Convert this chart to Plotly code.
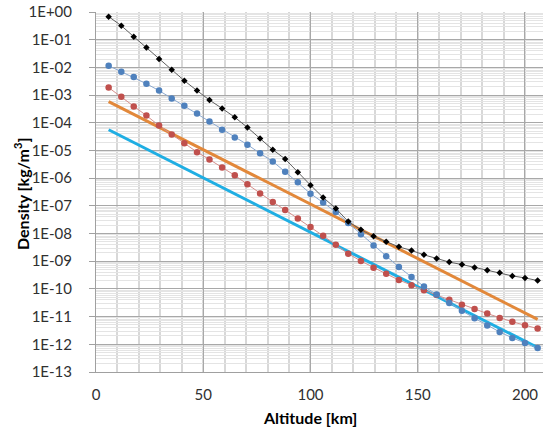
import plotly.graph_objects as go

# Altitude sample points [km]
altitude = [5.9, 11.8, 17.6, 23.5, 29.4, 35.3, 41.2, 47.1, 52.9, 58.8, 64.7, 70.6,
            76.5, 82.4, 88.2, 94.1, 100.0, 105.9, 111.8, 117.6, 123.5, 129.4, 135.3,
            141.2, 147.1, 152.9, 158.8, 164.7, 170.6, 176.5, 182.4, 188.2, 194.1,
            200.0, 205.9]

density_black = [6.8e-1, 3.2e-1, 1.29e-1, 5.2e-2, 2.0e-2, 8.3e-3, 3.3e-3, 1.45e-3,
                 6.6e-4, 3.3e-4, 1.58e-4, 6.8e-5, 2.7e-5, 1.07e-5, 4.9e-6, 1.62e-6,
                 5.6e-7, 2.0e-7, 8.1e-8, 2.7e-8, 1.38e-8, 7.9e-9, 5.1e-9, 3.3e-9,
                 2.45e-9, 1.7e-9, 1.26e-9, 9.3e-10, 7.6e-10, 5.9e-10, 4.7e-10, 3.8e-10,
                 2.95e-10, 2.5e-10, 2.0e-10]

density_blue = [1.15e-2, 7.0e-3, 4.5e-3, 2.57e-3, 1.45e-3, 7.6e-4, 4.1e-4, 2.14e-4,
                1.1e-4, 5.6e-5, 2.95e-5, 1.62e-5, 7.9e-6, 4.0e-6, 1.7e-6, 7.1e-7,
                2.75e-7, 1.32e-7, 6.0e-8, 2.4e-8, 9.5e-9, 3.7e-9, 1.5e-9, 6.2e-10,
                2.7e-10, 1.23e-10, 6.3e-11, 3.1e-11, 1.62e-11, 8.7e-12, 4.8e-12,
                2.8e-12, 1.7e-12, 1.12e-12, 7.4e-13]

density_red = [1.86e-3, 8.7e-4, 3.9e-4, 1.82e-4, 7.9e-5, 3.8e-5, 1.82e-5, 8.7e-6,
               4.7e-6, 2.45e-6, 1.26e-6, 6.0e-7, 2.8e-7, 1.38e-7, 7.1e-8, 3.5e-8,
               1.74e-8, 8.3e-9, 3.9e-9, 1.86e-9, 1.02e-9, 5.8e-10, 3.5e-10, 2.1e-10,
               1.35e-10, 8.9e-11, 6.0e-11, 4.1e-11, 2.7e-11, 1.9e-11, 1.29e-11,
               8.9e-12, 6.5e-12, 4.9e-12, 3.7e-12]

# Straight (exponential) fits: endpoints
fit_altitude = [5.9, 205.9]
density_orange = [5.8e-4, 7.9e-12]
density_cyan = [5.6e-5, 7.6e-13]

y_tickvals = [10.0 ** (-k) for k in range(0, 14)]
y_ticktext = ["1E+00"] + ["1E-%02d" % k for k in range(1, 14)]
y_minorvals = [m * 10.0 ** (-k) for k in range(1, 14) for m in range(2, 10)]
x_tickvals = [0, 50, 100, 150, 200]

FONT = "Lato"
W, H = 543, 429
ML, MR, MT, MB = 96, 0, 12, 57

fig = go.Figure()
fig.add_trace(go.Scatter(x=fit_altitude, y=density_orange, mode="lines",
                         line=dict(color="#E2883A", width=3)))
fig.add_trace(go.Scatter(x=fit_altitude, y=density_cyan, mode="lines",
                         line=dict(color="#1FAEE3", width=3)))
fig.add_trace(go.Scatter(x=altitude, y=density_red, mode="lines+markers",
                         line=dict(color="#D58F8C", width=1),
                         marker=dict(color="#C0504D", size=6.5, symbol="circle")))
fig.add_trace(go.Scatter(x=altitude, y=density_blue, mode="lines+markers",
                         line=dict(color="#8CA9D0", width=1),
                         marker=dict(color="#4F81BD", size=6.5, symbol="circle")))
fig.add_trace(go.Scatter(x=altitude, y=density_black, mode="lines+markers",
                         line=dict(color="#606060", width=1),
                         marker=dict(color="#000000", size=5, symbol="diamond")))

plot_w = W - ML - MR
plot_h = H - MT - MB

fig.update_layout(
    width=W, height=H,
    margin=dict(l=ML, r=MR, t=MT, b=MB),
    paper_bgcolor="white", plot_bgcolor="white",
    showlegend=False,
    font=dict(family=FONT, size=15, color="#303030"),
    annotations=[
        dict(text="<b>Altitude [km]</b>", xref="paper", yref="paper",
             x=(310 - ML) / plot_w, y=-(417 - (H - MB)) / plot_h,
             xanchor="center", yanchor="middle", showarrow=False,
             font=dict(family=FONT, size=16, color="#000000")),
        dict(text="<b>Density [kg/m<sup>3</sup>]</b>", xref="paper", yref="paper",
             x=-(ML - 21) / plot_w, y=((H - MB) - 194) / plot_h,
             xanchor="center", yanchor="middle", showarrow=False, textangle=-90,
             font=dict(family=FONT, size=16, color="#000000")),
    ],
)

fig.update_xaxes(
    range=[0, 208.4], tickvals=x_tickvals, ticks="", showline=True,
    linecolor="#A0A0A0", linewidth=1, mirror=False,
    showgrid=True, gridcolor="#A8A8A8", gridwidth=1, zeroline=False,
    minor=dict(dtick=10, tick0=0, showgrid=True, gridcolor="#D8D8D8", gridwidth=1.5),
    ticklabelstandoff=9,
    tickfont=dict(family=FONT, size=15, color="#303030"),
)
fig.update_yaxes(
    type="log", range=[-13, 0], tickvals=y_tickvals, ticktext=y_ticktext,
    ticks="outside", ticklen=6, tickcolor="#A0A0A0",
    showline=True, linecolor="#A0A0A0", linewidth=1,
    showgrid=True, gridcolor="#A8A8A8", gridwidth=1, zeroline=False,
    minor=dict(tickmode="array", tickvals=y_minorvals, showgrid=True,
               gridcolor="#E4E4E4", gridwidth=1, ticks=""),
    ticklabelstandoff=14,
    tickfont=dict(family=FONT, size=15, color="#303030"),
)

fig.write_html("out.html", config={"displayModeBar": False},
               post_script="document.body.style.margin='0';document.body.style.padding='0';")
